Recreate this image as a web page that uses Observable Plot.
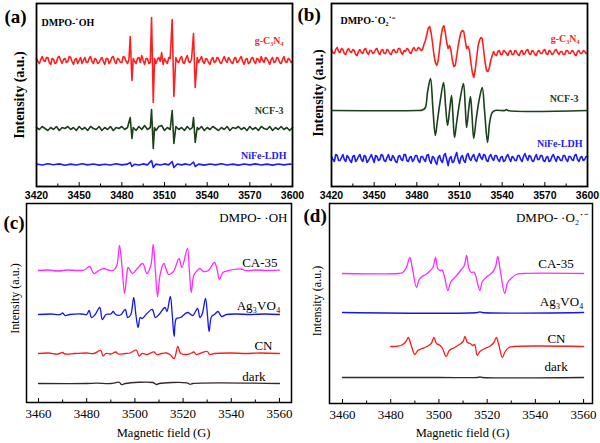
<!DOCTYPE html>
<html><head><meta charset="utf-8">
<script src="https://cdn.jsdelivr.net/npm/d3@7"></script>
<script src="https://cdn.jsdelivr.net/npm/@observablehq/plot@0.6"></script>
<style>
body{margin:0;background:#fff}
#fig{position:relative;width:600px;height:443px;overflow:hidden;background:#fff}
#fig svg{position:absolute}
</style></head><body><div id="fig"></div>
<script>
// ---------- tick labels ----------
const ticksAB = [3420,3450,3480,3510,3540,3570,3600];
const minorAB = [3435,3465,3495,3525,3555,3585];
const ticksCD = [3460,3480,3500,3520,3540,3560];
const minorCD = [3470,3490,3510,3530,3550];

// ---------- panel (a): DMPO-OH, values = deviation from each trace's baseline ----------
const aNames = ["g-C₃N₄","NCF-3","NiFe-LDH"];
const aOffsets = [126, 58, 22];
const aRed = [[3420,2],[3421,-1],[3422,-3],[3423,1],[3424,4],[3425,0],[3426,-1],[3427,3],[3428,3],[3429,-2],[3430,-4],[3431,2],[3432,1],[3433,-3],[3434,-2],[3435,3],[3436,4],[3437,0],[3438,-3],[3439,1],[3440,2],[3441,-2],[3442,-1],[3443,4],[3444,3],[3445,-1],[3446,-4],[3447,1],[3448,2],[3449,-3],[3450,0],[3451,3],[3452,-3],[3453,0],[3454,3],[3455,-2],[3456,-2],[3457,2],[3458,4],[3459,-1],[3460,-3],[3461,2],[3462,1],[3463,-3],[3464,-2],[3465,1],[3466,3],[3467,-1],[3468,-4],[3469,2],[3470,2],[3471,-3],[3472,-1],[3473,3],[3474,4],[3475,-1],[3476,-3],[3477,2],[3478,1],[3479,-2],[3480,-2],[3481,4],[3482,3],[3483,-1],[3484,-3],[3485,1],[3485.9,24],[3487.1,-20],[3488,2],[3489,-1],[3490,-3],[3491,2],[3492,3],[3493,-2],[3494,5],[3495,0],[3496,-4],[3497,2],[3498,2],[3499,-3],[3500,-2],[3500.9,43],[3502.1,-42],[3503,2],[3504,-3],[3505,1],[3506,3],[3507,-1],[3508,8],[3509,-4],[3510,2],[3511,-1],[3512,-3],[3513,3],[3514,2],[3515.4,41],[3516.6,-36],[3518,3],[3519,-1],[3520,-2],[3521,2],[3522,4],[3523,-2],[3524,-3],[3525,2],[3526,5],[3527,-1],[3528,-2],[3529,1],[3530.4,27],[3531.6,-27],[3533,3],[3534,-2],[3535,1],[3536,4],[3537,-1],[3538,-3],[3539,2],[3540,1],[3541,-2],[3542,-4],[3543,1],[3544,3],[3545,-2],[3546,-1],[3547,3],[3548,2],[3549,-2],[3550,-3],[3551,1],[3552,4],[3553,0],[3554,-2],[3555,3],[3556,1],[3557,-2],[3558,-3],[3559,2],[3560,3],[3561,-2],[3562,-1],[3563,2],[3564,4],[3565,-1],[3566,-4],[3567,1],[3568,2],[3569,-3],[3570,-2],[3571,2],[3572,3],[3573,-1],[3574,-3],[3575,2],[3576,1],[3577,-2],[3578,4],[3579,0],[3580,-2],[3581,3],[3582,2],[3583,-1],[3584,-4],[3585,1],[3586,3],[3587,-2],[3588,-1],[3589,3],[3590,2],[3591,-2],[3592,-3],[3593,1],[3594,4],[3595,-1],[3596,-2],[3597,2],[3598,1],[3599,-2],[3600,-1]];
const aGreen = [[3420,1],[3422,-1],[3424,2],[3426,0],[3428,-2],[3430,1],[3432,-1],[3434,2],[3436,-2],[3438,1],[3440,0],[3442,2],[3444,-1],[3446,1],[3448,-2],[3450,2],[3452,-1],[3454,1],[3456,-2],[3458,2],[3460,0],[3462,-1],[3464,2],[3466,-2],[3468,1],[3470,-1],[3472,2],[3474,-2],[3476,1],[3478,0],[3480,2],[3482,-1],[3484,1],[3485.9,11],[3487.1,-10],[3488,1],[3490,-2],[3492,2],[3494,-1],[3496,3],[3498,-1],[3500,1],[3500.9,19],[3502.1,-20],[3503,1],[3504,-2],[3506,2],[3508,3],[3510,-2],[3512,1],[3514,-1],[3515.4,18],[3516.6,-15],[3518,2],[3520,-1],[3522,1],[3524,-2],[3526,2],[3528,-1],[3529.6,1],[3530.4,11],[3531.6,-14],[3533,1],[3534,-1],[3536,2],[3538,-2],[3540,1],[3542,-1],[3544,2],[3546,0],[3548,-2],[3550,1],[3552,-1],[3554,2],[3556,-2],[3558,1],[3560,0],[3562,2],[3564,-1],[3566,1],[3568,-2],[3570,2],[3572,-1],[3574,1],[3576,-2],[3578,2],[3580,0],[3582,-1],[3584,2],[3586,-2],[3588,1],[3590,-1],[3592,2],[3594,-1],[3596,1],[3598,-2],[3600,1]];
const aBlue = [[3420,0.5],[3424,-0.5],[3428,0.8],[3432,-0.3],[3436,0.6],[3440,-0.7],[3444,0.4],[3448,-0.5],[3452,0.7],[3456,-0.4],[3460,0.5],[3464,-0.6],[3468,0.3],[3472,-0.5],[3476,0.7],[3480,-0.4],[3484,0.4],[3485.9,2],[3487.1,-2],[3489,0.3],[3492,-0.5],[3495,0.6],[3498,-0.4],[3500.9,4],[3502.1,-3],[3504,0.4],[3507,-0.5],[3510,0.6],[3513,-0.4],[3515.4,3],[3516.6,-3],[3519,0.5],[3522,-0.4],[3525,0.6],[3528,-0.5],[3530.4,2.5],[3531.6,-2],[3534,0.4],[3538,-0.6],[3542,0.5],[3546,-0.4],[3550,0.7],[3554,-0.5],[3558,0.4],[3562,-0.6],[3566,0.5],[3570,-0.4],[3574,0.6],[3578,-0.5],[3582,0.4],[3586,-0.6],[3590,0.5],[3594,-0.4],[3598,0.5],[3600,0]];

// ---------- panel (b): DMPO-O2 ----------
const bNames = ["g-C₃N₄","NCF-3","NiFe-LDH"];
const bOffsets = [134, 76, 28];
const bRed = [[3420,3],[3421,0],[3422,-1],[3423,3],[3424,5],[3425,1],[3426,0],[3427,4],[3428,3],[3429,-1],[3430,-2],[3431,2],[3432,4],[3433,1],[3434,0],[3435,3],[3436,2],[3437,-2],[3438,-3],[3439,1],[3440,3],[3441,0],[3442,-1],[3443,3],[3444,4],[3445,0],[3446,-2],[3447,2],[3448,2],[3449,-1],[3450,0],[3451,3],[3452,4],[3453,0],[3454,-2],[3455,2],[3456,3],[3457,-1],[3458,-1],[3459,3],[3460,2],[3461,-1],[3462,-2],[3463,2],[3464,3],[3465,0],[3466,0],[3467,4],[3468,4],[3469,0],[3470,-2],[3471,2],[3472,1],[3473,4],[3474,3],[3475,0],[3476,-1],[3477,3],[3478,5],[3479,2],[3480,2],[3481,5],[3482,4],[3483,2],[3484,3],[3485,8],[3486,12],[3487,18],[3488,24],[3489,26],[3490,20],[3491,10],[3492,-2],[3493,-10],[3494,-13],[3495,-8],[3496,4],[3497,16],[3498,24],[3499,27],[3500,20],[3501,10],[3502,4],[3503,7],[3504,2],[3505,-8],[3506,-14],[3507,-13],[3508,-4],[3509,6],[3510,14],[3511,20],[3512,22],[3513,21],[3514,12],[3515,4],[3516,6],[3517,2],[3518,-10],[3519,-20],[3520,-25],[3521,-18],[3522,-6],[3523,6],[3524,12],[3525,15],[3526,14],[3527,2],[3528,-10],[3529,-18],[3530,-19],[3531,-15],[3532,-8],[3533,-3],[3534,1],[3535,-2],[3536,-3],[3537,1],[3538,2],[3539,-2],[3540,-2],[3541,2],[3542,1],[3543,-1],[3544,-3],[3545,1],[3546,2],[3547,-2],[3548,-2],[3549,2],[3550,1],[3551,-2],[3552,-3],[3553,1],[3554,2],[3555,-2],[3556,-1],[3557,2],[3558,3],[3559,-1],[3560,-2],[3561,2],[3562,1],[3563,-2],[3564,-3],[3565,1],[3566,2],[3567,-1],[3568,-1],[3569,2],[3570,3],[3571,-1],[3572,-2],[3573,2],[3574,1],[3575,-2],[3576,-1],[3577,2],[3578,3],[3579,0],[3580,-2],[3581,1],[3582,1],[3583,-2],[3584,-2],[3585,2],[3586,2],[3587,-1],[3588,-1],[3589,2],[3590,1],[3591,-2],[3592,-3],[3593,1],[3594,2],[3595,-1],[3596,-1],[3597,2],[3598,1],[3599,-1],[3600,-1]];
const bGreen = [[3420,0],[3480,0],[3484,0.5],[3486,3],[3487.5,18],[3489.6,32],[3491.3,2],[3493,-25],[3494.5,-10],[3496.5,10],[3498.8,28],[3500.2,5],[3501.6,-15],[3503,0],[3504.4,15],[3505.4,-5],[3506.5,-27],[3508,-12],[3510.5,12],[3512.8,27],[3514,5],[3515,-17],[3516.3,-1],[3517.7,14],[3518.8,-5],[3520,-28],[3521.8,-8],[3524,12],[3526,23],[3527.6,0],[3529.7,-32],[3531.2,-12],[3533,-2],[3535,0],[3542,0],[3543,1],[3544,0],[3600,0]];
const bBlue = [[3420,2],[3421,-1],[3422,-3],[3423,4],[3424,3],[3425,-2],[3426,-2],[3427,1],[3428,4],[3429,-1],[3430,-3],[3431,3],[3432,1],[3433,-2],[3434,-4],[3435,2],[3436,3],[3437,-3],[3438,-1],[3439,2],[3440,4],[3441,-1],[3442,-3],[3443,3],[3444,2],[3445,-4],[3446,-2],[3447,1],[3448,4],[3449,0],[3450,-4],[3451,3],[3452,2],[3453,-2],[3454,-1],[3455,4],[3456,3],[3457,-2],[3458,-3],[3459,1],[3460,4],[3461,-1],[3462,-2],[3463,3],[3464,1],[3465,-3],[3466,-4],[3467,2],[3468,3],[3469,-1],[3470,-2],[3471,4],[3472,4],[3473,-2],[3474,-3],[3475,1],[3476,2],[3477,-3],[3478,-1],[3479,3],[3480,3],[3481,-2],[3482,-4],[3483,2],[3484,2],[3485,-1],[3486,-3],[3487,3],[3488,4],[3489,-2],[3490,-5],[3491,2],[3492,1],[3493,-3],[3494,-6],[3495,1],[3496,3],[3497,-2],[3498,-4],[3499,3],[3500,5],[3501,-1],[3502,-7],[3503,0],[3504,2],[3505,-4],[3506,-3],[3507,2],[3508,6],[3509,-1],[3510,-5],[3511,1],[3512,3],[3513,-2],[3514,-4],[3515,3],[3516,5],[3517,0],[3518,-2],[3519,2],[3520,4],[3521,-1],[3522,-3],[3523,2],[3524,5],[3525,1],[3526,-1],[3527,4],[3528,3],[3529,-2],[3530,-3],[3531,2],[3532,4],[3533,0],[3534,-2],[3535,3],[3536,3],[3537,-1],[3538,-3],[3539,1],[3540,2],[3541,-3],[3542,-2],[3543,2],[3544,4],[3545,0],[3546,-3],[3547,2],[3548,1],[3549,-2],[3550,-2],[3551,3],[3552,3],[3553,-1],[3554,-3],[3555,2],[3556,5],[3557,1],[3558,-2],[3559,3],[3560,2],[3561,-2],[3562,-3],[3563,1],[3564,4],[3565,-1],[3566,-1],[3567,3],[3568,3],[3569,-2],[3570,-3],[3571,1],[3572,2],[3573,-3],[3574,-2],[3575,2],[3576,4],[3577,0],[3578,-3],[3579,2],[3580,1],[3581,-2],[3582,-2],[3583,3],[3584,3],[3585,-1],[3586,-3],[3587,2],[3588,2],[3589,-1],[3590,-2],[3591,3],[3592,4],[3593,-1],[3594,-3],[3595,1],[3596,2],[3597,-2],[3598,-1],[3599,2],[3600,2]];

// ---------- panel (c): DMPO-OH ----------
const cNames = ["CA-35","Ag₃VO₄","CN","dark"];
const cOffsets = [132, 88, 49, 19];
const cMagenta = [[3460,0],[3464,0.5],[3468,-0.5],[3472,0.5],[3476,0],[3479,0.5],[3481.2,4],[3483,-3],[3485,0],[3487,2],[3489,0.5],[3491,0],[3492.5,5],[3493.6,25],[3494.6,5],[3495.7,-23],[3496.6,-5],[3497.2,3],[3499,-3],[3501,2],[3503.2,7],[3505,-3],[3506.6,5],[3507.6,26],[3508.5,0],[3509.4,-26],[3510.4,-5],[3512,7],[3514,-4],[3516,-1],[3518.3,12],[3519.5,3],[3521.8,22],[3522.6,0],[3523.4,-22],[3524.4,-5],[3525.5,-1],[3527,2],[3528.5,-1],[3530.5,0],[3533,8],[3534.2,0],[3535.1,-9],[3536.5,-2],[3539,0],[3544,1.5],[3546,0],[3550,0.5],[3555,0],[3560,0.3]];
const cBlue = [[3460,0],[3465,0.5],[3469,0],[3470,1.5],[3471,-1],[3473,0],[3478,0.5],[3480,0],[3481,4],[3482,-3],[3483.5,0],[3485.4,7],[3486.5,-5],[3488,0],[3490,0.5],[3491,3],[3492,0],[3494,-0.5],[3496,5],[3497,-3],[3498.3,0],[3499.5,17],[3500.4,0],[3501.3,-13],[3502.2,-3],[3503,-4],[3505,1],[3507.2,5],[3508.5,-3],[3510,0],[3512.5,7],[3513.3,3],[3514.7,18],[3515.5,0],[3516.3,-22],[3517.2,-4],[3519,-3],[3520.5,0],[3522,2],[3524,-1],[3526,6],[3527,-3],[3528,1],[3529.3,16],[3530.1,0],[3530.8,-17],[3531.8,-2],[3533,0],[3534.5,3],[3536,-2],[3538,0],[3542,0.5],[3548,0],[3554,0.5],[3560,0]];
const cRed = [[3460,0],[3464,0.5],[3468,-0.5],[3470,1],[3471,-0.5],[3475,0],[3480,0.5],[3483,0],[3485.8,3],[3486.8,-2.5],[3488,0],[3490,-0.5],[3492,1.5],[3493,-0.5],[3496,0],[3498,0.5],[3500.5,3.5],[3501.8,-2.5],[3503,0],[3505,-1],[3508,1.5],[3509,-1],[3511,0],[3513,0.5],[3514.5,-1],[3516.3,-5],[3517.8,7],[3519,0],[3521,-1],[3523,0],[3524.5,1.5],[3525.5,-1],[3527,0],[3530,2],[3531,-1],[3533,0],[3540,0.5],[3546,0],[3552,0.5],[3560,0]];
const cDark = [[3460,0],[3480,0],[3484,0.3],[3490,0],[3493.5,1.2],[3494.5,-1.2],[3496,0],[3507.5,1],[3509,-1],[3510,0],[3521.5,0.7],[3523,-0.8],[3524,0],[3560,0]];

// ---------- panel (d): DMPO-O2 ----------
const dNames = ["CA-35","Ag₃VO₄","CN","dark"];
const dOffsets = [130, 91, 57, 26];
const dMagenta = [[3460,0],[3483,0],[3485,1],[3486.5,6],[3487.9,16],[3489,5],[3490.7,-14],[3491.8,-6],[3493,-3],[3494.5,-1],[3496,2],[3497.5,6],[3498.6,16],[3499.5,5],[3500.5,3],[3501.3,3.5],[3502.3,-3],[3503.7,-17],[3505,-8],[3507,-3],[3509,3],[3510.5,8],[3511.5,18],[3512.4,5],[3513.5,1],[3514.5,1.5],[3515.2,-2],[3517,-17],[3518,-8],[3520,-3],[3522.5,2],[3523.5,7],[3524.4,17],[3525.5,2],[3527.3,-20],[3528.5,-9],[3530,-5],[3532,-1],[3535,0],[3560,0]];
const dBlue = [[3460,0],[3516,0],[3517,0.7],[3518,0],[3560,0]];
const dRed = [[3480,0],[3483,0.3],[3485,2],[3486.3,5],[3487.3,9],[3488.4,2],[3490,-8],[3491.2,-4],[3493,-2],[3495,0],[3496.8,3],[3497.9,9],[3499,3],[3500.5,1],[3501.5,-2],[3503,-10],[3504.3,-4],[3506.5,-1],[3508.5,2],[3510,5],[3510.8,10],[3511.8,4],[3513,3],[3514,1],[3514.8,2],[3515.9,-9],[3517,-5],[3519,-2],[3521,0],[3522.8,4],[3523.8,9],[3524.8,2],[3526.3,-11],[3527.5,-5],[3529,-1],[3531,0],[3560,0]];
const dDark = [[3460,0],[3500,0],[3516,0],[3517,0.5],[3518,0],[3560,0]];

// ---------- drawing ----------
const SERIF = "'Liberation Serif','Times New Roman',serif";
const SANS = "'Liberation Sans',Arial,sans-serif";
const fig = document.getElementById("fig");

function panel(c) {
  const frameH = c.H - c.mT - c.mB;
  const marks = [];
  c.series.forEach(s => {
    marks.push(Plot.line(s.pairs.map(([x, d]) => ({x, y: s.offset + d})),
      {x: "x", y: "y", stroke: s.color, strokeWidth: c.sw, curve: s.curve || "linear"}));
  });
  marks.push(Plot.frame({stroke: "black", strokeWidth: c.frameW}));
  marks.push(Plot.tickX(c.ticks, {x: d => d, insetTop: frameH - 4, stroke: "black", strokeWidth: 1}));
  marks.push(Plot.tickX(c.minor, {x: d => d, insetTop: frameH - 2.5, stroke: "black", strokeWidth: 1}));
  marks.push(Plot.axisX({ticks: c.ticks, tickSize: 0, tickPadding: c.tickPad, tickFormat: d3.format("d"),
    label: null, fontSize: c.tickFS, fontWeight: c.tickFW, fontFamily: c.tickFF, fill: "black"}));
  c.labels.forEach(l => {
    marks.push(Plot.text([l], {x: "x", y: "y", text: "text", textAnchor: l.anchor || "end", lineAnchor: "middle",
      fill: l.color || "black", fontSize: l.fs, fontWeight: l.fw || "normal", fontFamily: SERIF}));
  });
  marks.push(Plot.text([c.letter], {frameAnchor: "top-left", dx: c.letterDx, dy: c.letterDy, textAnchor: "start",
    lineAnchor: "middle", fontSize: 19, fontWeight: "bold", fontFamily: SERIF, fill: "black"}));
  marks.push(Plot.text(["Intensity (a.u.)"], {frameAnchor: "left", rotate: -90, dx: c.yLabDx, dy: c.yLabDy,
    textAnchor: "middle", lineAnchor: "middle",
    fontSize: c.yLabFS, fontWeight: c.yLabFW, fontFamily: SERIF, fill: "black"}));
  if (c.xTitle) marks.push(Plot.text([c.xTitle], {x: () => c.xTitleX, frameAnchor: "bottom", dy: c.xTitleDy,
    textAnchor: "middle", lineAnchor: "middle", fontSize: 12.5, fontFamily: SERIF, fill: "black"}));
  const svg = Plot.plot({
    width: c.W, height: c.H, marginLeft: c.mL, marginRight: c.mR, marginTop: c.mT, marginBottom: c.mB,
    x: {domain: c.xDomain}, y: {domain: c.yDomain, axis: null},
    style: {background: "transparent", overflow: "visible", fontFamily: SERIF},
    marks
  });
  svg.style.left = c.left + "px";
  svg.style.top = c.top + "px";
  fig.appendChild(svg);
}

const RED = "#ff1f1f", GREEN = "#1b401b", BLUE = "#1c1cff";
const MAG = "#ff2bff", BLUE2 = "#1616e6", RED2 = "#ff1a1a", DARK = "#3a2626";

panel({
  left: 0, top: 0, W: 300, H: 210, mL: 36, mR: 8, mT: 3, mB: 24,
  xDomain: [3420, 3600], yDomain: [0, 183], sw: 1.6, frameW: 1.8,
  series: [
    {pairs: aRed, offset: aOffsets[0], color: RED},
    {pairs: aGreen, offset: aOffsets[1], color: GREEN},
    {pairs: aBlue, offset: aOffsets[2], color: BLUE}
  ],
  ticks: ticksAB, minor: minorAB, tickPad: 5, tickFS: 10.5, tickFW: "bold", tickFF: SANS,
  labels: [
    {text: "DMPO-˙OH", x: 3423.5, y: 164, anchor: "start", fs: 10, fw: "bold"},
    {text: aNames[0], x: 3593.7, y: 146, color: RED, fs: 10, fw: "bold"},
    {text: aNames[1], x: 3593.7, y: 76, color: GREEN, fs: 10, fw: "bold"},
    {text: aNames[2], x: 3595.8, y: 31, color: BLUE, fs: 10, fw: "bold"}
  ],
  letter: "(a)", letterDx: -32, letterDy: 13,
  yLabDx: -17, yLabDy: 0, yLabFS: 14, yLabFW: "bold"
});

panel({
  left: 292, top: 0, W: 308, H: 210, mL: 39, mR: 13, mT: 3, mB: 24,
  xDomain: [3420, 3600], yDomain: [0, 183], sw: 1.6, frameW: 1.8,
  series: [
    {pairs: bRed, offset: bOffsets[0], color: RED},
    {pairs: bGreen, offset: bOffsets[1], color: GREEN, curve: "catmull-rom"},
    {pairs: bBlue, offset: bOffsets[2], color: BLUE}
  ],
  ticks: ticksAB, minor: minorAB, tickPad: 5, tickFS: 10.5, tickFW: "bold", tickFF: SANS,
  labels: [
    {text: "DMPO-˙O₂˙⁻", x: 3426.3, y: 166, anchor: "start", fs: 10, fw: "bold"},
    {text: bNames[0], x: 3594.4, y: 148, color: RED, fs: 10, fw: "bold"},
    {text: bNames[1], x: 3593.7, y: 88, color: GREEN, fs: 10, fw: "bold"},
    {text: bNames[2], x: 3596.5, y: 43, color: BLUE, fs: 10, fw: "bold"}
  ],
  letter: "(b)", letterDx: -34, letterDy: 11,
  yLabDx: -13, yLabDy: -2, yLabFS: 14, yLabFW: "bold"
});

panel({
  left: 0, top: 200, W: 300, H: 243, mL: 26, mR: 9, mT: 3, mB: 41,
  xDomain: [3455, 3565], yDomain: [0, 199], sw: 1.3, frameW: 1.5,
  series: [
    {pairs: cMagenta, offset: cOffsets[0], color: MAG, curve: "catmull-rom"},
    {pairs: cBlue, offset: cOffsets[1], color: BLUE2, curve: "catmull-rom"},
    {pairs: cRed, offset: cOffsets[2], color: RED2, curve: "catmull-rom"},
    {pairs: cDark, offset: cOffsets[3], color: DARK, curve: "catmull-rom"}
  ],
  ticks: ticksCD, minor: minorCD, tickPad: 6, tickFS: 13, tickFW: "normal", tickFF: SERIF,
  labels: [
    {text: "DMPO- ·OH", x: 3563.3, y: 185, fs: 13},
    {text: cNames[0], x: 3559.2, y: 140, fs: 13},
    {text: cNames[1], x: 3560.4, y: 97, fs: 13},
    {text: cNames[2], x: 3557.1, y: 57, fs: 13},
    {text: cNames[3], x: 3554.2, y: 26, fs: 13}
  ],
  letter: "(c)", letterDx: -23, letterDy: 19,
  yLabDx: -11, yLabDy: -4.5, yLabFS: 12, yLabFW: "normal",
  xTitle: "Magnetic field (G)", xTitleX: 3511.9, xTitleDy: 30
});

panel({
  left: 292, top: 200, W: 308, H: 243, mL: 37, mR: 8, mT: 3, mB: 40,
  xDomain: [3454.6, 3563.7], yDomain: [0, 200], sw: 1.3, frameW: 1.5,
  series: [
    {pairs: dMagenta, offset: dOffsets[0], color: MAG, curve: "catmull-rom"},
    {pairs: dBlue, offset: dOffsets[1], color: BLUE2, curve: "catmull-rom"},
    {pairs: dRed, offset: dOffsets[2], color: RED2, curve: "catmull-rom"},
    {pairs: dDark, offset: dOffsets[3], color: DARK, curve: "catmull-rom"}
  ],
  ticks: ticksCD, minor: minorCD, tickPad: 6, tickFS: 13, tickFW: "normal", tickFF: SERIF,
  labels: [
    {text: "DMPO- ·O₂˙⁻", x: 3561.7, y: 186, fs: 13},
    {text: dNames[0], x: 3555.9, y: 140, fs: 13},
    {text: dNames[1], x: 3560, y: 102, fs: 13},
    {text: dNames[2], x: 3552.5, y: 65, fs: 13},
    {text: dNames[3], x: 3553.4, y: 37, fs: 13}
  ],
  letter: "(d)", letterDx: -26, letterDy: 12,
  yLabDx: -12, yLabDy: -2.5, yLabFS: 12, yLabFW: "normal",
  xTitle: "Magnetic field (G)", xTitleX: 3509.8, xTitleDy: 29
});
</script></body></html>
